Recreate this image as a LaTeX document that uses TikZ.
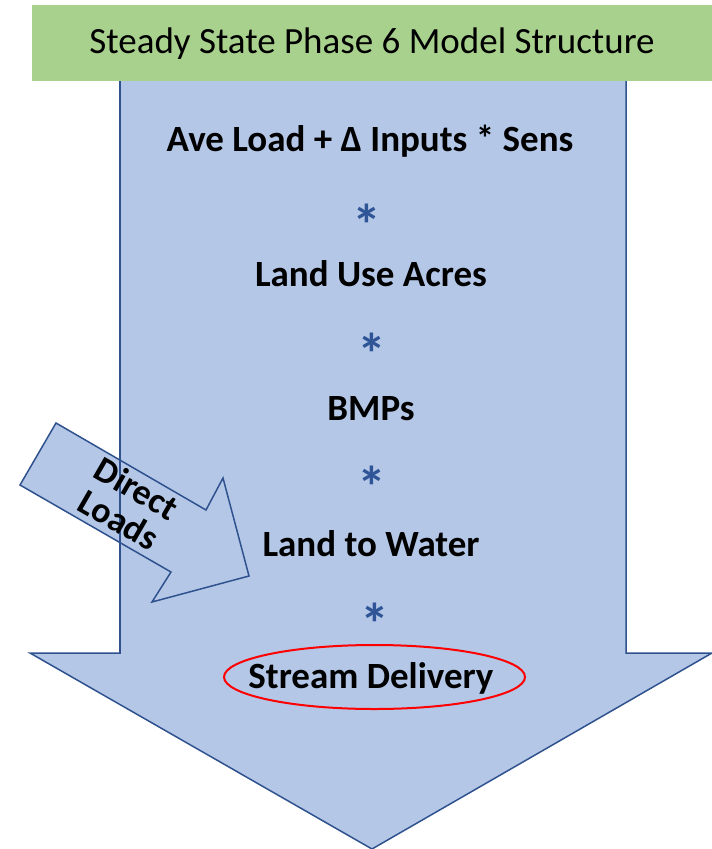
\documentclass[tikz,border=0pt]{standalone}
\usepackage{fontspec}
\setmainfont{Carlito}
\definecolor{flowfill}{HTML}{B4C7E7}
\definecolor{flowline}{HTML}{2F528F}
\definecolor{headfill}{HTML}{A9D18E}
\definecolor{starblue}{HTML}{2F5597}
\tikzstyle{stage}=[font=\fontsize{37}{40}\selectfont\bfseries,inner sep=0pt]
\tikzstyle{times}=[text=starblue,font=\fontsize{58}{58}\selectfont\bfseries,inner sep=0pt]
\tikzstyle{flow}=[fill=flowfill,draw=flowline,line width=1.5pt,line join=miter]

\begin{document}
\begin{tikzpicture}[x=1pt,y=-1pt]
		\useasboundingbox (0,0) rectangle (712,849);
		% main arrow
		\coordinate (ml) at (120,80);
		\coordinate (mr) at (626,80);
		\coordinate (hl) at (30,653);
		\coordinate (hr) at (712,653);
		\coordinate (tip) at (372,849);
		\path[flow] (ml) -- (120,653) -- (hl) -- (tip) -- (hr) -- (626,653) -- (mr) -- cycle;
		% direct loads arrow
		\path[flow] (56,423) -- (206,510) -- (223,478) -- (249,576) -- (152,602) -- (171,572) -- (20,485) -- cycle;
		\draw[draw=flowline,line width=1.5pt] (ml) -- (120,653);
		\node[rotate=-30,align=center,font=\fontsize{36}{36}\selectfont\bfseries,inner sep=0pt] at (128,504) (direct) {Direct\\Loads};
		% title
		\node[fill=headfill,minimum width=680pt,minimum height=76pt,inner sep=0pt,anchor=north west] at (32,5) (title) {};
		\node[font=\fontsize{37}{37}\selectfont,inner sep=0pt] at (372,44) (titletext) {Steady State Phase 6 Model Structure};
		% stages
		\node[stage] at (370,141) (load) {Ave Load + Δ Inputs * Sens};
		\node[times] at (367,225) (t1) {*};
		\node[stage] at (371,274) (acres) {Land Use Acres};
		\node[times] at (372,354) (t2) {*};
		\node[stage] at (371,409) (bmp) {BMPs};
		\node[times] at (372,487) (t3) {*};
		\node[stage] at (371,544) (ltw) {Land to Water};
		\node[times] at (375,624) (t4) {*};
		\node[stage] at (371,678) (sd) {Stream Delivery};
		\draw[red,line width=2pt] (374.5,677) ellipse (150.5 and 32);
\end{tikzpicture}
\end{document}
